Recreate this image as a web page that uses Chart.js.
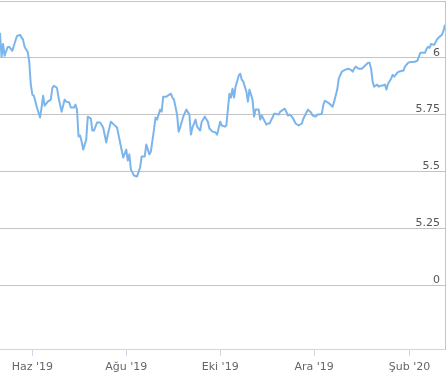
<!DOCTYPE html>
<html lang="tr">
<head>
<meta charset="utf-8">
<title>Kur grafiği</title>
<script src="https://cdn.jsdelivr.net/npm/chart.js@4.4.1/dist/chart.umd.min.js"></script>
<style>
    html, body { margin: 0; padding: 0; background: #ffffff; }
    #wrap { width: 448px; height: 388px; }
</style>
</head>
<body>
<div id="wrap"><canvas id="priceChart" width="448" height="388"></canvas></div>
<script>
// Days counted from 1 June 2019 (negative = May 2019)
const days = [
    -21, -20, -19, -18, -16, -15, -13, -12, -10, -8, -6, -5, -3, -2, -1,
    0, 1, 3, 5, 6, 7, 8, 10, 12, 13, 14, 16, 17, 18, 19,
    21, 22, 24, 25, 27, 28, 29, 30, 31, 32, 33, 35, 36, 38, 39,
    40, 42, 44, 46, 48, 49, 51, 53, 55, 57, 59, 61, 62, 63, 64,
    66, 68, 70, 71, 73, 74, 76, 77, 79, 80, 81, 83, 84, 85, 87,
    89, 90, 91, 92, 94, 95, 96, 98, 100, 102, 103, 104, 106, 107, 109,
    110, 112, 114, 115, 117, 119, 120, 122, 123, 125, 126, 128, 129, 130, 131,
    132, 134, 135, 136, 137, 139, 140, 141, 143, 144, 145, 147, 148, 149, 151,
    152, 153, 154, 156, 157, 158, 160, 161, 163, 164, 166, 167, 168, 169, 171,
    173, 175, 176, 178, 179, 181, 182, 184, 185, 186, 188, 189, 190, 192, 193,
    195, 196, 198, 199, 201, 202, 203, 205, 207, 208, 209, 210, 212, 213, 214,
    216, 218, 219, 220, 221, 222, 224, 225, 226, 227, 229, 230, 231, 233, 234,
    235, 237, 238, 240, 241, 242, 244, 246, 248, 250, 251, 252, 253, 255, 256,
    257, 258, 259, 261, 262, 263, 265, 266, 267, 268
];

const prices = [
    6.110, 6.004, 6.061, 6.009, 6.048, 6.048, 6.031, 6.053, 6.096, 6.101, 6.079, 6.048, 6.026, 5.982, 5.882,
    5.838, 5.833, 5.781, 5.737, 5.781, 5.833, 5.789, 5.807, 5.816, 5.868, 5.877, 5.868, 5.825, 5.794, 5.763,
    5.816, 5.807, 5.803, 5.781, 5.781, 5.794, 5.772, 5.654, 5.658, 5.632, 5.596, 5.640, 5.741, 5.732, 5.680,
    5.680, 5.715, 5.715, 5.693, 5.627, 5.662, 5.719, 5.706, 5.693, 5.627, 5.561, 5.596, 5.548, 5.575, 5.509,
    5.482, 5.478, 5.518, 5.566, 5.566, 5.618, 5.575, 5.588, 5.684, 5.737, 5.728, 5.772, 5.763, 5.829, 5.829,
    5.838, 5.842, 5.825, 5.816, 5.750, 5.675, 5.693, 5.741, 5.772, 5.750, 5.662, 5.693, 5.728, 5.697, 5.680,
    5.719, 5.741, 5.719, 5.689, 5.675, 5.671, 5.662, 5.719, 5.702, 5.697, 5.702, 5.842, 5.825, 5.864, 5.825,
    5.873, 5.921, 5.930, 5.904, 5.895, 5.851, 5.807, 5.860, 5.816, 5.741, 5.772, 5.772, 5.728, 5.746, 5.719,
    5.706, 5.711, 5.711, 5.737, 5.754, 5.754, 5.750, 5.763, 5.772, 5.776, 5.746, 5.750, 5.746, 5.737, 5.711,
    5.702, 5.711, 5.732, 5.759, 5.772, 5.759, 5.746, 5.741, 5.750, 5.750, 5.754, 5.794, 5.811, 5.803, 5.798,
    5.785, 5.807, 5.860, 5.908, 5.939, 5.943, 5.947, 5.952, 5.947, 5.939, 5.952, 5.961, 5.952, 5.952, 5.952,
    5.965, 5.978, 5.978, 5.952, 5.895, 5.873, 5.882, 5.873, 5.877, 5.877, 5.882, 5.860, 5.886, 5.908, 5.925,
    5.917, 5.934, 5.939, 5.943, 5.943, 5.961, 5.978, 5.982, 5.982, 5.987, 6.004, 6.022, 6.022, 6.022, 6.039,
    6.048, 6.044, 6.061, 6.057, 6.070, 6.083, 6.096, 6.101, 6.118, 6.145
];

// X axis: month starts (days from 1 June 2019) and their labels
const monthTicks = [0, 61, 122, 183, 245];
const monthLabels = ["Haz '19", "Ağu '19", "Eki '19", "Ara '19", "Şub '20"];

// Y axis: tick values and the labels shown for them
const yTickValues = [5, 5.25, 5.5, 5.75, 6, 6.25];
const yTickLabels = ['0', '5.25', '5.5', '5.75', '6', ''];

const FONT = "'DejaVu Sans', Verdana, sans-serif";

const points = days.map((d, i) => ({ x: d, y: prices[i] }));

new Chart(document.getElementById('priceChart').getContext('2d'), {
    type: 'line',
    data: {
        datasets: [{
            label: 'Kur',
            data: points,
            borderColor: '#7cb5ec',
            borderWidth: 2,
            borderJoinStyle: 'round',
            pointRadius: 0,
            tension: 0,
            fill: false
        }]
    },
    options: {
        responsive: false,
        animation: false,
        events: [],
        layout: { padding: { top: 1, right: 3, bottom: 9, left: 0 } },
        plugins: {
            legend: { display: false },
            tooltip: { enabled: false }
        },
        scales: {
            x: {
                type: 'linear',
                position: 'bottom',
                min: days[0],
                max: days[days.length - 1],
                afterBuildTicks: (scale) => {
                    scale.ticks = monthTicks.map(v => ({ value: v }));
                },
                afterFit: (scale) => {
                    scale.paddingLeft = 0;
                    scale.paddingRight = 0;
                },
                grid: {
                    drawOnChartArea: false,
                    drawTicks: true,
                    tickLength: 6,
                    tickColor: '#ccd6eb'
                },
                border: { display: true, color: '#ccd6eb', width: 1 },
                ticks: {
                    autoSkip: false,
                    maxRotation: 0,
                    padding: 5,
                    color: '#666666',
                    font: { family: FONT, size: 11 },
                    callback: (value) => {
                        const i = monthTicks.indexOf(value);
                        return i >= 0 ? monthLabels[i] : '';
                    }
                }
            },
            y: {
                type: 'linear',
                position: 'right',
                min: 4.715,
                max: 6.25,
                afterBuildTicks: (scale) => {
                    scale.ticks = yTickValues.map(v => ({ value: v }));
                },
                afterFit: (scale) => {
                    scale.width = 0;
                    scale.paddingTop = 0;
                    scale.paddingBottom = 0;
                },
                grid: {
                    color: '#c4c4c4',
                    lineWidth: 1,
                    drawTicks: false
                },
                border: { display: true, color: '#c4c4c4', width: 1 },
                ticks: {
                    mirror: true,
                    padding: -5,
                    labelOffset: -5,
                    color: '#555555',
                    font: { family: FONT, size: 11 },
                    callback: (value, index) => yTickLabels[index]
                }
            }
        }
    }
});
</script>
</body>
</html>
